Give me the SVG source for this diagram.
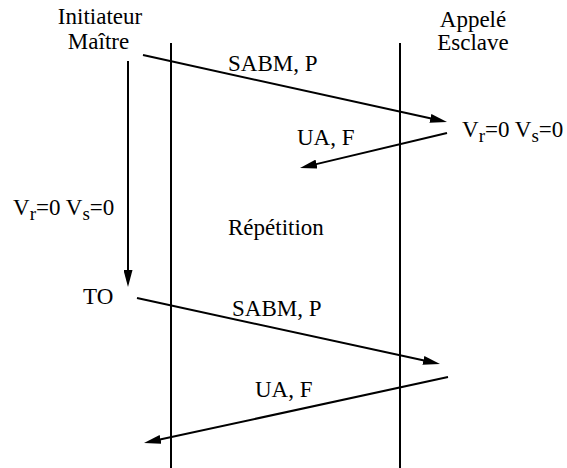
<svg xmlns="http://www.w3.org/2000/svg" width="567" height="468" viewBox="0 0 567 468">
<style>
text{font-family:"Times New Roman","Liberation Serif",Tinos,"Noto Serif","DejaVu Serif",serif;font-size:23px;fill:#000}
.ln{stroke:#000;stroke-width:2;fill:none}
.life{stroke:#000;stroke-width:2}
.sub{font-size:19px}
</style>
<defs>
<marker id="ah" viewBox="0 0 17 9" refX="9" refY="4.5" markerWidth="17" markerHeight="9" markerUnits="userSpaceOnUse" orient="auto">
<path d="M0,0 L17,4.5 L0,9 z" fill="#000"/>
</marker>
</defs>
<rect width="567" height="468" fill="#fff"/>
<g id="initiateur">
<text x="100" y="24" text-anchor="middle">Initiateur</text>
<text x="98.5" y="49" text-anchor="middle">Maître</text>
</g>
<g id="appele">
<text x="473" y="27" text-anchor="middle">Appelé</text>
<text x="473" y="50" text-anchor="middle">Esclave</text>
</g>
<g id="lifeline-left"><line class="life" x1="171" y1="43" x2="171" y2="468"/></g>
<g id="lifeline-right"><line class="life" x1="400" y1="43" x2="400" y2="468"/></g>
<g id="state-right">
<text x="462" y="137">V<tspan class="sub" dy="5">r</tspan><tspan dy="-5">=0 V</tspan><tspan class="sub" dy="5">s</tspan><tspan dy="-5">=0</tspan></text>
</g>
<g id="state-left">
<text x="13" y="215">V<tspan class="sub" dy="5">r</tspan><tspan dy="-5">=0 V</tspan><tspan class="sub" dy="5">s</tspan><tspan dy="-5">=0</tspan></text>
</g>
<g id="repetition"><text x="228" y="235">Répétition</text></g>
<g id="to"><text x="83" y="304">TO</text></g>
<g id="connectors">
<line class="ln" x1="143" y1="55" x2="439.2" y2="120.3" marker-end="url(#ah)"/>
<line class="ln" x1="447" y1="133" x2="307.8" y2="166.1" marker-end="url(#ah)"/>
<line class="ln" x1="128" y1="61" x2="128" y2="279" marker-end="url(#ah)"/>
<line class="ln" x1="137" y1="298" x2="432.2" y2="362.3" marker-end="url(#ah)"/>
<line class="ln" x1="448" y1="377" x2="151.8" y2="441.3" marker-end="url(#ah)"/>
<text x="228" y="71">SABM, P</text>
<text x="297" y="145">UA, F</text>
<text x="232" y="316">SABM, P</text>
<text x="255" y="397">UA, F</text>
</g>
</svg>
